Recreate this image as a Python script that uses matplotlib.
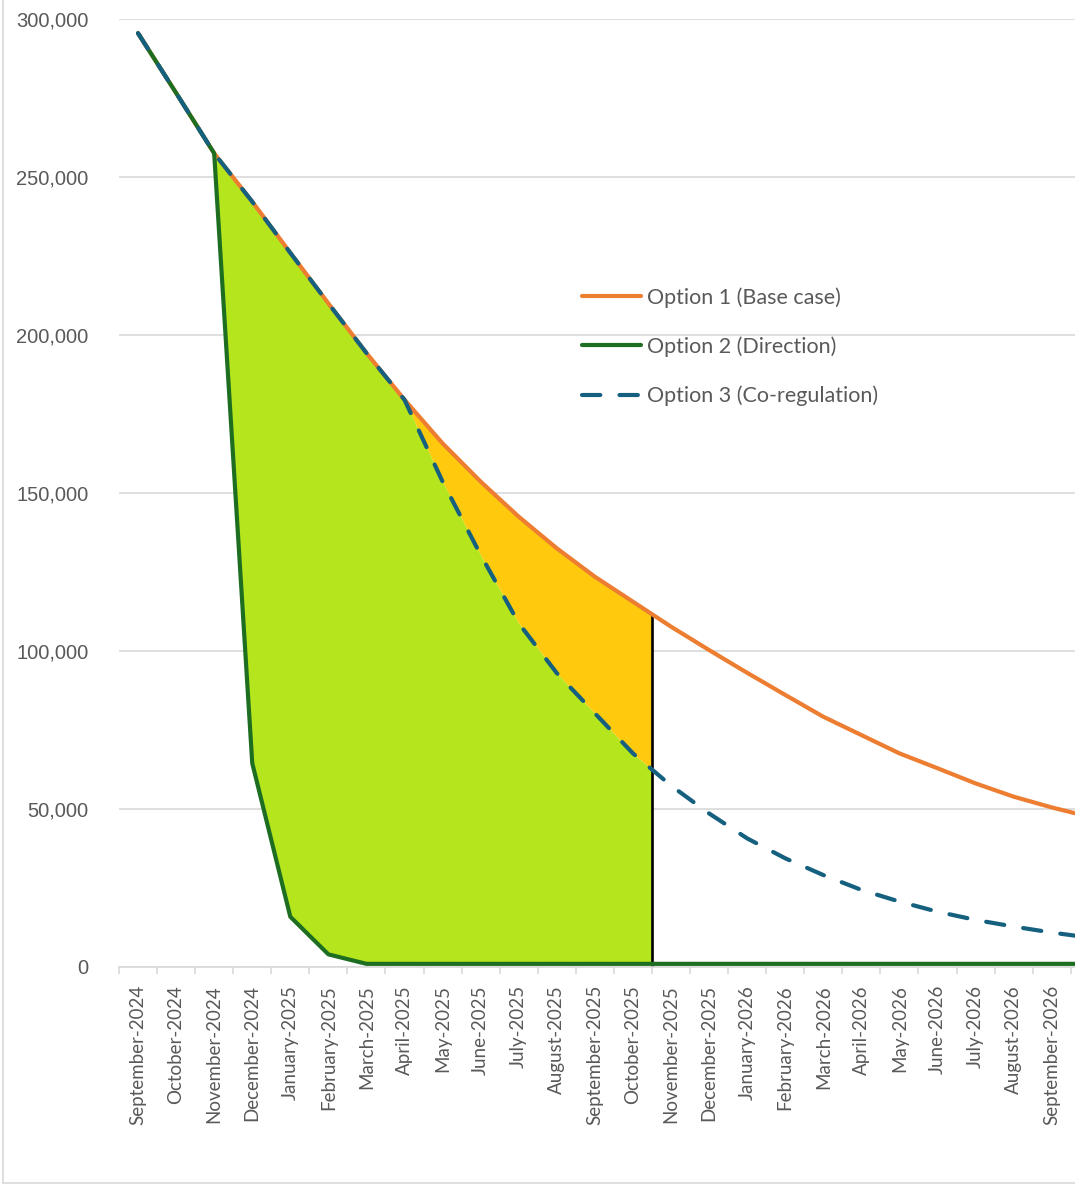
import numpy as np
import matplotlib
matplotlib.use("Agg")
import matplotlib.pyplot as plt
from matplotlib.lines import Line2D

months = ["September-2024", "October-2024", "November-2024", "December-2024",
          "January-2025", "February-2025", "March-2025", "April-2025", "May-2025",
          "June-2025", "July-2025", "August-2025", "September-2025", "October-2025",
          "November-2025", "December-2025", "January-2026", "February-2026",
          "March-2026", "April-2026", "May-2026", "June-2026", "July-2026",
          "August-2026", "September-2026", "October-2026"]

option1 = [295500, 276600, 257500, 242200, 226000, 210000, 194300, 179500, 165700,
           153600, 142500, 132500, 123500, 115600, 107700, 100300, 93100, 86100,
           79200, 73400, 67600, 62900, 58100, 53900, 50500, 47500]
option2 = [295500, 276600, 257500, 64500, 15900, 4000, 1000, 1000, 1000,
           1000, 1000, 1000, 1000, 1000, 1000, 1000, 1000, 1000,
           1000, 1000, 1000, 1000, 1000, 1000, 1000, 1000]
option3 = [295500, 276600, 257500, 242200, 226000, 210000, 194300, 179500, 153600,
           130400, 108800, 93000, 80300, 67600, 57400, 48600, 40700, 34400,
           29100, 24400, 20700, 17500, 14900, 12800, 10900, 9300]

labels = ["Option 1 (Base case)", "Option 2 (Direction)", "Option 3 (Co-regulation)"]

# shading runs from the option 2 drop / option 3 split to the end of October 2025
green_start = 2
orange_start = 7
cutoff = 13.5

W, H = 1075, 1185
fig = plt.figure(figsize=(W / 100, H / 100), dpi=100)
ax = fig.add_axes([119 / W, 1 - 967 / H, (W - 119) / W, (967 - 19) / H])

x = np.arange(len(months))

# filled regions
xg = np.append(x[green_start:14], cutoff)
ax.fill_between(xg, np.interp(xg, x, option2), np.interp(xg, x, option3),
                color="#B5E61D", lw=0, zorder=1)
xo = np.append(x[orange_start:14], cutoff)
ax.fill_between(xo, np.interp(xo, x, option3), np.interp(xo, x, option1),
                color="#FFC90E", lw=0, zorder=1)
ax.plot([cutoff, cutoff], [0, np.interp(cutoff, x, option1)], color="black",
        lw=1.9, zorder=2)

ax.plot(x, option1, color="#ED7D31", lw=3.0, label=labels[0], zorder=3,
        solid_capstyle="round")
ax.plot(x, option2, color="#1E6E22", lw=3.0, label=labels[1], zorder=4,
        solid_capstyle="round", solid_joinstyle="round")
ax.plot(x, option3, color="#15607F", lw=3.0, label=labels[2], zorder=5,
        dashes=(4.4, 4.6), dash_capstyle="round")

ax.set_yticks(np.arange(0, 300001, 50000))
ax.yaxis.set_major_formatter(matplotlib.ticker.FuncFormatter(lambda v, p: f"{int(v):,}"))
ax.grid(axis="y", color="#D9D9D9", lw=1.2)
ax.set_axisbelow(True)

ax.set_xticks(x)
ax.set_xticklabels(months, rotation=90, fontsize=13.5, color="#595959", family="Lato")
ax.set_xticks(np.arange(-0.5, len(months), 1), minor=True)
ax.tick_params(axis="x", which="major", length=0, pad=13)
ax.tick_params(axis="x", which="minor", length=5, color="#D9D9D9", width=1.2)
ax.tick_params(axis="y", length=0, pad=22, labelsize=14.5, labelcolor="#595959")
for t in ax.get_yticklabels():
    t.set_family("Liberation Sans")

ax.set_xlim(-0.5, (W - 119) / 38.07 - 0.5)
ax.set_ylim(0, 300000)

for s in ["top", "right", "left"]:
    ax.spines[s].set_visible(False)
ax.spines["bottom"].set_color("#D9D9D9")
ax.spines["bottom"].set_linewidth(1.2)

leg = ax.legend(loc="upper left", bbox_to_anchor=(582 / W, 1 - 287 / H),
                bbox_transform=fig.transFigure, frameon=False, borderpad=0,
                borderaxespad=0, handlelength=2.75, handletextpad=0.25,
                labelspacing=1.33, prop={"family": "Lato", "size": 15.5})
for t in leg.get_texts():
    t.set_color("#595959")

# chart border
fig.add_artist(Line2D([3 / W, 3 / W], [1 - 1183 / H, 1], color="#D9D9D9", lw=1.2))
fig.add_artist(Line2D([3 / W, 1], [1 - 1183 / H, 1 - 1183 / H], color="#D9D9D9", lw=1.2))

fig.savefig("out.png", dpi=100)
